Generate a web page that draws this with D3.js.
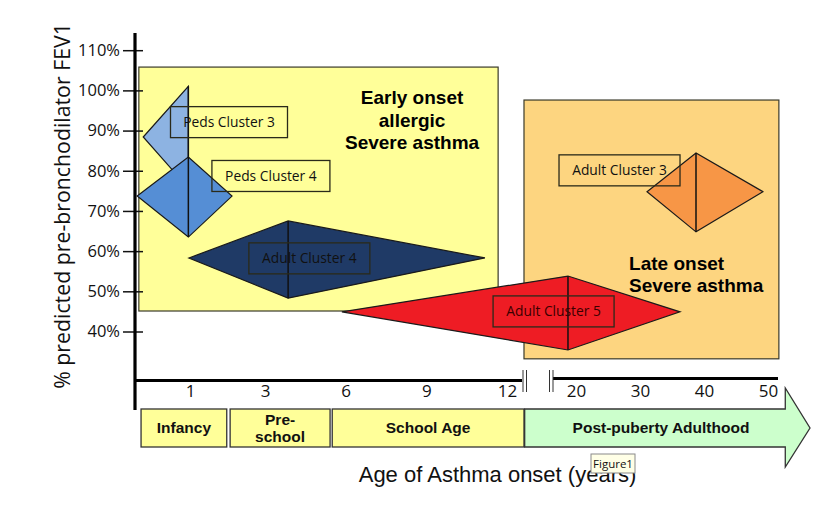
<!DOCTYPE html>
<html>
<head>
<meta charset="utf-8">
<script src="https://cdn.jsdelivr.net/npm/d3@7/dist/d3.min.js"></script>
<style>
  html, body { margin: 0; padding: 0; background: #ffffff; }
  svg { display: block; }
</style>
</head>
<body>
<svg id="chart" width="838" height="506"></svg>
<script>
// ---------------- DATA ----------------
const yTicks = [40, 50, 60, 70, 80, 90, 100, 110];
const xTicks = [1, 3, 6, 9, 12, 20, 30, 40, 50];

const clusters  = ["Peds Cluster 3", "Peds Cluster 4", "Adult Cluster 4", "Adult Cluster 5", "Adult Cluster 3"];
const onsetAge  = [0.97, 0.97, 3.86, 19.07, 38.75];   // vertical line of each diamond
const ageLow    = [0.15, 0.04, 0.98, 5.86, 31.1];
const ageHigh   = [0.97, 2.12, 11.18, 36.25, 49.2];
const fevHigh   = [101, 83.4, 67.5, 53.8, 84.4];
const fevMid    = [88.4, 73.7, 58.3, 44.9, 74.8];
const fevLow    = [75.7, 63.5, 48.3, 35.4, 64.8];

const periods     = ["Infancy", "Pre-|school", "School Age", "Post-puberty Adulthood"];
const periodStart = [0.11, 2.07, 5.5, 14.05];
const periodEnd   = [1.98, 5.42, 13.97, 52.7];

const regions     = ["Early onset|allergic|Severe asthma", "Late onset|Severe asthma"];
const regionAge0  = [0.07, 13.97];
const regionAge1  = [11.67, 51.7];
const regionFev0  = [45.1, 33.2];
const regionFev1  = [105.8, 97.6];

// ---------------- STYLE / LAYOUT ----------------
const clusterColors = ["#8db3e2", "#558ed5", "#1f3a66", "#ee1c24", "#f79646"];
const labelAge = [2.04, 3.22, 4.65, 17.4, 26.8];
const labelFev = [92.1, 78.7, 58.2, 45.0, 80.1];
const labelW = [117, 118, 121, 121, 121];
const labelH = 31;
const regionFill = ["#ffff99", "#fdd580"];
const periodFill = ["#ffff99", "#ffff99", "#ffff99", "#ccffcc"];

const svg = d3.select("#chart");

const x = d3.scaleLinear()
  .domain([0, 1, 3, 12, 20, 50])
  .range([135, 190, 265, 507, 576, 768]);
const y = d3.scaleLinear()
  .domain([40, 110])
  .range([331.5, 50.2]);

// ---------- regions ----------
const gReg = svg.append("g");
regions.forEach((r, i) => {
  gReg.append("rect")
    .attr("x", x(regionAge0[i]))
    .attr("y", y(regionFev1[i]))
    .attr("width", x(regionAge1[i]) - x(regionAge0[i]))
    .attr("height", y(regionFev0[i]) - y(regionFev1[i]))
    .attr("fill", regionFill[i])
    .attr("stroke", "#3a3a2a")
    .attr("stroke-width", 1.2);
});

// ---------- diamonds ----------
const gD = svg.append("g");
clusters.forEach((c, i) => {
  const pts = [
    [x(ageLow[i]), y(fevMid[i])],
    [x(onsetAge[i]), y(fevHigh[i])],
    [x(ageHigh[i]), y(fevMid[i])],
    [x(onsetAge[i]), y(fevLow[i])]
  ];
  gD.append("polygon")
    .attr("points", pts.map(p => p.join(",")).join(" "))
    .attr("fill", clusterColors[i])
    .attr("stroke", "#1a1a1a")
    .attr("stroke-width", 1.2)
    .attr("stroke-linejoin", "miter");
  gD.append("line")
    .attr("x1", x(onsetAge[i])).attr("x2", x(onsetAge[i]))
    .attr("y1", y(fevHigh[i])).attr("y2", y(fevLow[i]))
    .attr("stroke", "#111")
    .attr("stroke-width", 1.5);
});

// ---------- cluster labels ----------
const gL = svg.append("g");
clusters.forEach((c, i) => {
  const cx = x(labelAge[i]), cy = y(labelFev[i]);
  gL.append("rect")
    .attr("x", cx - labelW[i] / 2).attr("y", cy - labelH / 2)
    .attr("width", labelW[i]).attr("height", labelH)
    .attr("fill", "none")
    .attr("stroke", "#2a2a1a")
    .attr("stroke-width", 1.3);
  gL.append("text")
    .attr("x", cx).attr("y", cy)
    .attr("dy", "0.36em")
    .attr("text-anchor", "middle")
    .attr("font-family", "'Open Sans', sans-serif")
    .attr("font-size", 13.8)
    .attr("fill", i === 3 ? "#3a0000" : "#111")
    .text(c);
});

// ---------- region texts ----------
const earlyLines = regions[0].split("|");
earlyLines.forEach((t, k) => {
  svg.append("text")
    .attr("x", x(8.47)).attr("y", y(96.6) + k * 22.5)
    .attr("text-anchor", "middle")
    .attr("font-family", "'Liberation Sans', Arial, sans-serif")
    .attr("font-weight", "bold")
    .attr("font-size", 19)
    .attr("fill", "#000")
    .text(t);
});
const lateLines = regions[1].split("|");
lateLines.forEach((t, k) => {
  svg.append("text")
    .attr("x", x(28.3)).attr("y", y(55.3) + k * 21.7)
    .attr("text-anchor", "start")
    .attr("font-family", "'Liberation Sans', Arial, sans-serif")
    .attr("font-weight", "bold")
    .attr("font-size", 19)
    .attr("fill", "#000")
    .text(t);
});

// ---------- Y axis ----------
const yAxis = d3.axisLeft(y)
  .tickValues(yTicks)
  .tickFormat(d => d + "%")
  .tickSize(0)
  .tickPadding(15);
const gy = svg.append("g").attr("transform", "translate(135,0)").call(yAxis);
gy.select(".domain").remove();
gy.selectAll(".tick text")
  .attr("font-family", "'Open Sans', sans-serif")
  .attr("font-size", 16.5)
  .attr("fill", "#111");
gy.selectAll(".tick").append("line")
  .attr("x1", -12).attr("x2", 8)
  .attr("stroke", "#111").attr("stroke-width", 1.5);
svg.append("line")
  .attr("x1", 135).attr("x2", 135).attr("y1", 33).attr("y2", 410)
  .attr("stroke", "#000").attr("stroke-width", 3.2);

// ---------- X axis ----------
svg.append("line")
  .attr("x1", 135).attr("x2", 522).attr("y1", 380.5).attr("y2", 380.5)
  .attr("stroke", "#000").attr("stroke-width", 3);
svg.append("line")
  .attr("x1", 553).attr("x2", 778).attr("y1", 378.5).attr("y2", 378.5)
  .attr("stroke", "#000").attr("stroke-width", 3);
[523, 526.5, 549.5, 553].forEach(bx => {
  svg.append("line")
    .attr("x1", bx).attr("x2", bx).attr("y1", 370).attr("y2", 392)
    .attr("stroke", "#333").attr("stroke-width", 1);
});
const xAxis = d3.axisBottom(x)
  .tickValues(xTicks)
  .tickSize(0)
  .tickPadding(0);
const gx = svg.append("g").attr("transform", "translate(0,384)").call(xAxis);
gx.select(".domain").remove();
gx.selectAll(".tick text")
  .attr("font-family", "'Open Sans', sans-serif")
  .attr("font-size", 17)
  .attr("dy", "0.78em")
  .attr("fill", "#111");

// ---------- life periods ----------
const bandTop = 409, bandBot = 447;
periods.forEach((p, i) => {
  const x0 = x(periodStart[i]), x1 = x(periodEnd[i]);
  const last = i === periods.length - 1;
  if (!last) {
    svg.append("rect")
      .attr("x", x0).attr("y", bandTop)
      .attr("width", x1 - x0).attr("height", bandBot - bandTop)
      .attr("fill", periodFill[i])
      .attr("stroke", "#333").attr("stroke-width", 1.3);
  } else {
    const tip = 810, headTop = 388, headBot = 467, mid = (bandTop + bandBot) / 2;
    const pts = [[x0, bandTop], [x1, bandTop], [x1, headTop], [tip, mid], [x1, headBot], [x1, bandBot], [x0, bandBot]];
    svg.append("polygon")
      .attr("points", pts.map(q => q.join(",")).join(" "))
      .attr("fill", periodFill[i])
      .attr("stroke", "#333").attr("stroke-width", 1.3);
  }
  const lines = p.split("|");
  const cx = last ? (x0 + x1) / 2 + 6 : (x0 + x1) / 2;
  const mid = (bandTop + bandBot) / 2;
  lines.forEach((t, k) => {
    svg.append("text")
      .attr("x", cx)
      .attr("y", mid + (k - (lines.length - 1) / 2) * 17)
      .attr("dy", "0.35em")
      .attr("text-anchor", "middle")
      .attr("font-family", "'Liberation Sans', Arial, sans-serif")
      .attr("font-weight", "bold")
      .attr("font-size", 15.5)
      .attr("fill", "#111")
      .text(t);
  });
});

// ---------- axis titles ----------
svg.append("text")
  .attr("x", 497.5).attr("y", 482)
  .attr("text-anchor", "middle")
  .attr("font-family", "'Liberation Sans', Arial, sans-serif")
  .attr("font-size", 22)
  .attr("fill", "#111")
  .text("Age of Asthma onset (years)");

svg.append("text")
  .attr("transform", "translate(70,206) rotate(-90)")
  .attr("text-anchor", "middle")
  .attr("font-family", "'Open Sans', sans-serif")
  .attr("font-size", 21.3)
  .attr("fill", "#111")
  .text("% predicted pre-bronchodilator FEV1");

// ---------- tooltip ----------
svg.append("rect")
  .attr("x", 591).attr("y", 454).attr("width", 44).attr("height", 19)
  .attr("fill", "#ffffe6").attr("stroke", "#8a8a8a").attr("stroke-width", 1);
svg.append("text")
  .attr("x", 613).attr("y", 464).attr("dy", "0.35em")
  .attr("text-anchor", "middle")
  .attr("font-family", "'Open Sans', sans-serif")
  .attr("font-size", 11.5)
  .attr("fill", "#111")
  .text("Figure1");
</script>
</body>
</html>
